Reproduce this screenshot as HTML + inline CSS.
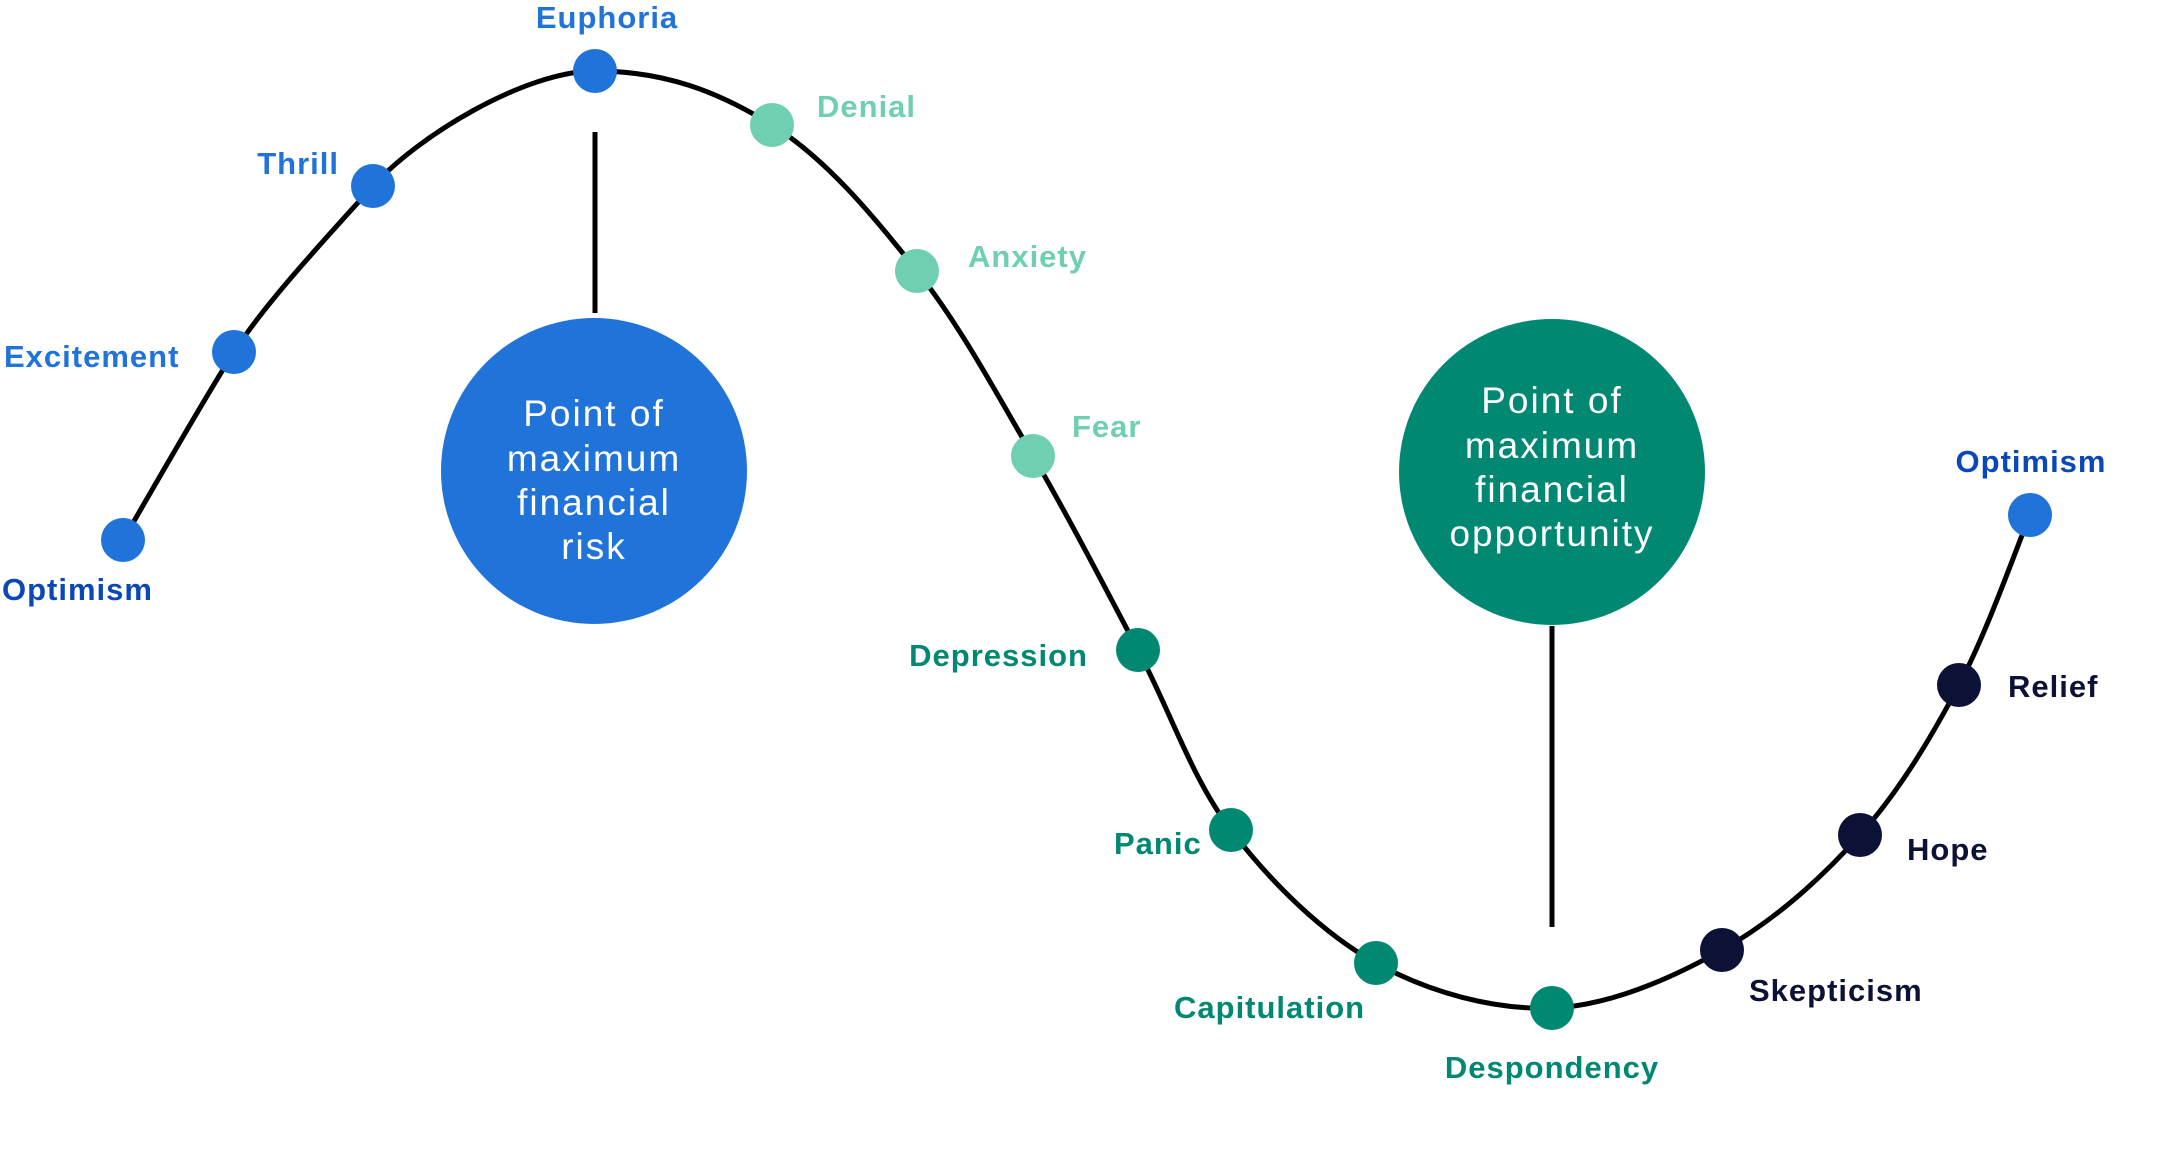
<!DOCTYPE html>
<html><head><meta charset="utf-8"><style>
html,body{margin:0;padding:0;background:#fff;}
svg{display:block}
.l{font-family:"Liberation Sans",sans-serif;font-weight:bold;font-size:31px;letter-spacing:1px}
.c{font-family:"Liberation Sans",sans-serif;font-size:37px;letter-spacing:2px;fill:#fff;text-anchor:middle}
</style></head><body>
<svg id="s" width="2176" height="1157" viewBox="0 0 2176 1157" xmlns="http://www.w3.org/2000/svg">
<path id="curve" d="" fill="none" stroke="#000" stroke-width="5"/>
<line x1="595" y1="132" x2="595" y2="313" stroke="#000" stroke-width="5"/>
<line x1="1552" y1="626" x2="1552" y2="927" stroke="#000" stroke-width="5"/>
<circle cx="594" cy="471" r="153" fill="#2073d9"/>
<circle cx="1552" cy="472" r="153" fill="#008873"/>
<text class="c" x="594" y="426">Point of</text>
<text class="c" x="594" y="471">maximum</text>
<text class="c" x="594" y="515">financial</text>
<text class="c" x="594" y="559">risk</text>
<text class="c" x="1552" y="413">Point of</text>
<text class="c" x="1552" y="458">maximum</text>
<text class="c" x="1552" y="502">financial</text>
<text class="c" x="1552" y="546">opportunity</text>
<g id="dots"></g>
<text class="l" x="607" y="28" text-anchor="middle" fill="#2073d9">Euphoria</text>
<text class="l" x="339" y="174" text-anchor="end" fill="#2073d9">Thrill</text>
<text class="l" x="4" y="367" fill="#2073d9">Excitement</text>
<text class="l" x="2" y="600" fill="#0a47b8">Optimism</text>
<text class="l" x="817" y="117" fill="#6fcfb2">Denial</text>
<text class="l" x="968" y="267" fill="#6fcfb2">Anxiety</text>
<text class="l" x="1072" y="437" fill="#6fcfb2">Fear</text>
<text class="l" x="1088" y="666" text-anchor="end" fill="#008873">Depression</text>
<text class="l" x="1114" y="854" fill="#008873">Panic</text>
<text class="l" x="1174" y="1018" fill="#008873">Capitulation</text>
<text class="l" x="1552" y="1078" text-anchor="middle" fill="#008873">Despondency</text>
<text class="l" x="1749" y="1001" fill="#0b1236">Skepticism</text>
<text class="l" x="1907" y="860" fill="#0b1236">Hope</text>
<text class="l" x="2008" y="697" fill="#0b1236">Relief</text>
<text class="l" x="2031" y="472" text-anchor="middle" fill="#0a47b8">Optimism</text>
</svg>
<script>
var P=[[123,540,'#2073d9'],[234,352,'#2073d9'],[373,186,'#2073d9'],[595,71,'#2073d9'],[772,125,'#6fcfb2'],[917,271,'#6fcfb2'],[1033,456,'#6fcfb2'],[1138,650,'#008873'],[1231,830,'#008873'],[1376,963,'#008873'],[1552,1008,'#008873'],[1722,950,'#0b1236'],[1860,835,'#0b1236'],[1959,685,'#0b1236'],[2030,515,'#2073d9']];
var T=[];
for(var i=0;i<P.length;i++){var a=P[Math.max(i-1,0)],b=P[Math.min(i+1,P.length-1)];T.push([(b[0]-a[0])/6,(b[1]-a[1])/6]);}
T[2]=[45,-50];T[3]=[70,0];T[1]=[32,-50];
var d='M'+P[0][0]+','+P[0][1];
for(var i=0;i<P.length-1;i++){var p1=P[i],p2=P[i+1];
d+=' C'+(p1[0]+T[i][0])+','+(p1[1]+T[i][1])+' '+(p2[0]-T[i+1][0])+','+(p2[1]-T[i+1][1])+' '+p2[0]+','+p2[1];}
document.getElementById('curve').setAttribute('d',d);
var g=document.getElementById('dots'),h='';
P.forEach(function(p){h+='<circle cx="'+p[0]+'" cy="'+p[1]+'" r="22" fill="'+p[2]+'"/>';});
g.innerHTML=h;
</script>
</body></html>
